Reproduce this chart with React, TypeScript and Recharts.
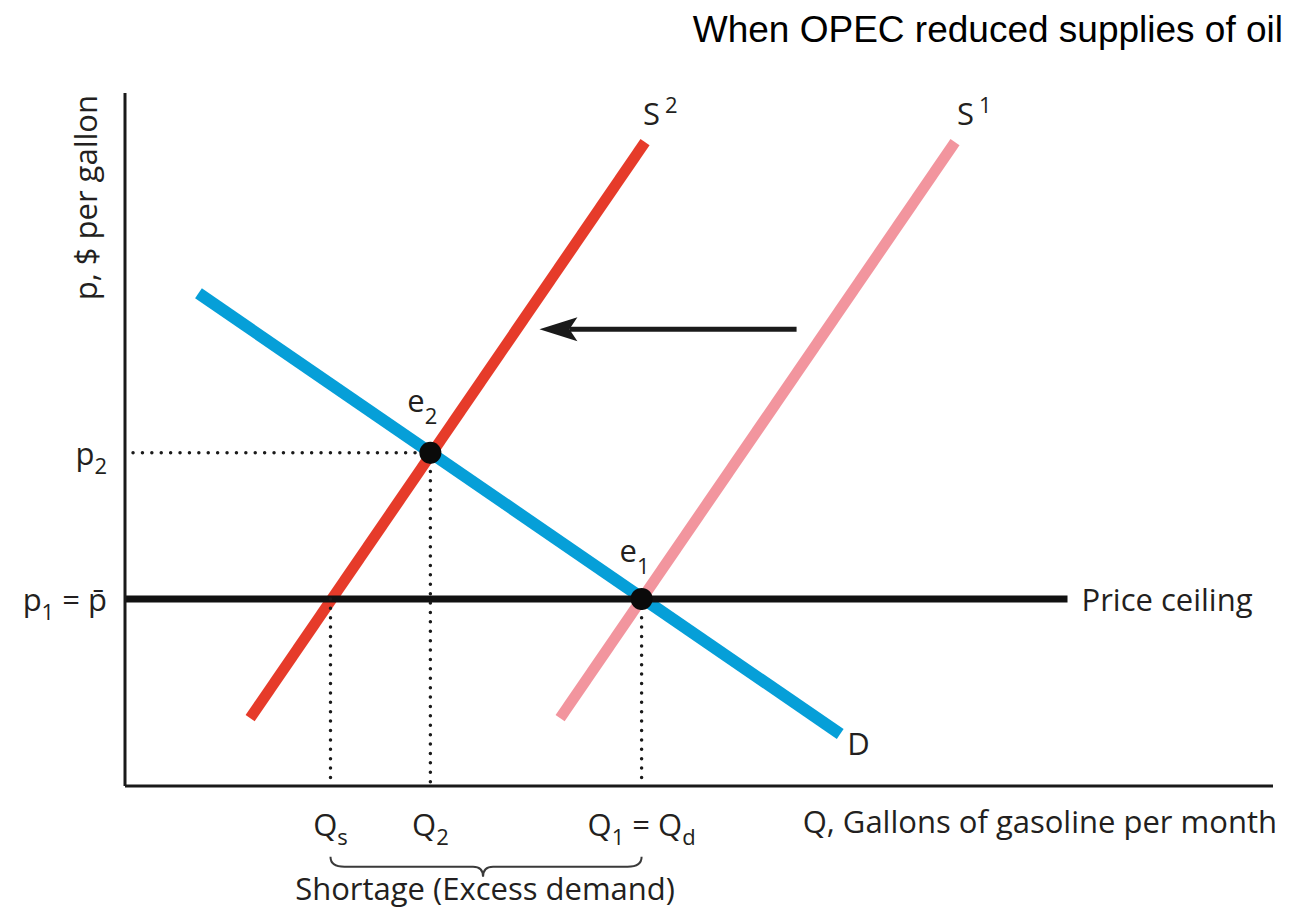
import React from "react";
import {
  ComposedChart,
  Line,
  Scatter,
  XAxis,
  YAxis,
  ReferenceLine,
  ReferenceDot,
  Label,
} from "recharts";

// all values in chart units: quantity 0-100, price 0-100
const demand = [
  { q: 6.4, p: 71.1 },
  { q: 62.3, p: 7.5 },
];
const supplyNew = [
  { q: 10.9, p: 9.8 },
  { q: 45.3, p: 92.9 },
];
const supplyOld = [
  { q: 37.9, p: 9.8 },
  { q: 72.3, p: 92.9 },
];
const ceiling = [
  { q: 0, p: 27.0 },
  { q: 82.1, p: 27.0 },
];
const equilibria = [
  { q: 26.6, p: 48.1, name: "e2" },
  { q: 45.0, p: 27.0, name: "e1" },
];
const qTicks = [17.9, 26.6, 45.0];
const pTicks = [27.0, 48.1];
const shiftArrow = { from: 58.5, to: 36.1, p: 65.9 };
const braceP = -10.2;

const FONT = "'Open Sans', sans-serif";
const FS = 31;
const SUB = 22;
const INK = "#231f20";

const tickText: Record<number, React.ReactNode> = {
  17.9: (
    <>
      <tspan>Q</tspan>
      <tspan dy={9} fontSize={SUB}>s</tspan>
    </>
  ),
  26.6: (
    <>
      <tspan>Q</tspan>
      <tspan dy={9} fontSize={SUB}>2</tspan>
    </>
  ),
  45.0: (
    <>
      <tspan>Q</tspan>
      <tspan dy={9} fontSize={SUB}>1</tspan>
      <tspan dy={-9}> = Q</tspan>
      <tspan dy={9} fontSize={SUB}>d</tspan>
    </>
  ),
};

const XTick = (props: any) => {
  const { x, y, payload } = props;
  return (
    <text x={x} y={y + 50} textAnchor="middle" fontFamily={FONT} fontSize={FS} fill={INK}>
      {tickText[payload.value]}
    </text>
  );
};

const YTick = (props: any) => {
  const { x, y, payload } = props;
  const isCeiling = payload.value === pTicks[0];
  return (
    <text x={x - 18} y={y + 12} textAnchor="end" fontFamily={FONT} fontSize={FS} fill={INK}>
      <tspan>p</tspan>
      <tspan dy={9} fontSize={SUB}>{isCeiling ? "1" : "2"}</tspan>
      {isCeiling && <tspan dy={-9}> = p{"\u0304"}</tspan>}
    </text>
  );
};

const textAt = (dx: number, dy: number, main: string, sub?: string, sup?: string) =>
  (props: any) => (
    <text x={props.cx + dx} y={props.cy + dy} fontFamily={FONT} fontSize={FS} fill={INK}>
      <tspan>{main}</tspan>
      {sub && (
        <tspan dy={12} fontSize={SUB}>
          {sub}
        </tspan>
      )}
      {sup && (
        <tspan dx={5} dy={-12} fontSize={SUB}>
          {sup}
        </tspan>
      )}
    </text>
  );

const Arrow = (props: any) => {
  const { x1, y1, x2 } = props;
  return (
    <g>
      <line x1={x1} y1={y1} x2={x2 + 30} y2={y1} stroke="#1a1a1a" strokeWidth={5} />
      <polygon
        points={`${x2},${y1} ${x2 + 38},${y1 - 12} ${x2 + 30},${y1} ${x2 + 38},${y1 + 12}`}
        fill="#1a1a1a"
      />
    </g>
  );
};

const Brace = (props: any) => {
  const { x1, y1, x2 } = props;
  const mid = (x1 + x2) / 2 - 3;
  const d = `M${x1},${y1} Q${x1},${y1 + 10} ${x1 + 14},${y1 + 10} L${mid - 10},${y1 + 10} Q${mid},${y1 + 10} ${mid},${y1 + 20} Q${mid},${y1 + 10} ${mid + 10},${y1 + 10} L${x2 - 14},${y1 + 10} Q${x2},${y1 + 10} ${x2},${y1}`;
  return (
    <g>
      <path d={d} fill="none" stroke="#3a3a3a" strokeWidth={2} />
      <text x={mid + 2} y={y1 + 43} textAnchor="middle" fontFamily={FONT} fontSize={FS} fill={INK}>
        Shortage (Excess demand)
      </text>
    </g>
  );
};

const EqDot = (props: any) => <circle cx={props.cx} cy={props.cy} r={11} fill="#0a0a0a" />;

const dotted = {
  stroke: "#1a1a1a",
  strokeWidth: 3.5,
  strokeDasharray: "0 9.4",
  strokeLinecap: "round" as const,
};

export default function App() {
  const [e2, e1] = equilibria;
  return (
    <div style={{ position: "absolute", left: 0, top: 0, width: 1293, height: 912, background: "#fff" }}>
      <div
        style={{
          position: "absolute",
          top: 12,
          right: 10,
          fontFamily: "'Liberation Sans', Arial, sans-serif",
          fontSize: 37,
          lineHeight: "36px",
          color: "#000",
          whiteSpace: "nowrap",
        }}
      >
        When OPEC reduced supplies of oil
      </div>
      <ComposedChart width={1293} height={912} margin={{ top: 93, right: 20, bottom: 125, left: 124 }}>
        <XAxis
          type="number"
          dataKey="q"
          domain={[0, 100]}
          ticks={qTicks}
          interval={0}
          height={1}
          tickSize={0}
          tickMargin={0}
          tickLine={false}
          tick={<XTick />}
          axisLine={{ stroke: "#1a1a1a", strokeWidth: 3 }}
        >
          <Label
            content={(p: any) => (
              <text
                x={p.viewBox.x + p.viewBox.width + 4}
                y={p.viewBox.y + 47}
                textAnchor="end"
                fontFamily={FONT}
                fontSize={FS}
                fill={INK}
              >
                Q, Gallons of gasoline per month
              </text>
            )}
          />
        </XAxis>
        <YAxis
          type="number"
          dataKey="p"
          domain={[0, 100]}
          ticks={pTicks}
          interval={0}
          width={1}
          tickSize={0}
          tickMargin={0}
          tickLine={false}
          tick={<YTick />}
          axisLine={{ stroke: "#1a1a1a", strokeWidth: 3 }}
        >
          <Label
            content={(p: any) => {
              const x = p.viewBox.x + p.viewBox.width - 28;
              const y = p.viewBox.y + 2;
              return (
                <text
                  x={x}
                  y={y}
                  transform={`rotate(-90, ${x}, ${y})`}
                  textAnchor="end"
                  fontFamily={FONT}
                  fontSize={FS}
                  fill={INK}
                >
                  p, $ per gallon
                </text>
              );
            }}
          />
        </YAxis>

        <Line data={supplyOld} dataKey="p" type="linear" stroke="#f2959e" strokeWidth={11} dot={false} isAnimationActive={false} />
        <Line data={supplyNew} dataKey="p" type="linear" stroke="#e63b2a" strokeWidth={11} dot={false} isAnimationActive={false} />
        <Line data={demand} dataKey="p" type="linear" stroke="#069fd8" strokeWidth={12} dot={false} isAnimationActive={false} />
        <Line data={ceiling} dataKey="p" type="linear" stroke="#111" strokeWidth={7} dot={false} isAnimationActive={false} />

        <ReferenceLine segment={[{ x: 0.7, y: e2.p }, { x: e2.q, y: e2.p }]} {...dotted} />
        <ReferenceLine segment={[{ x: e2.q, y: e2.p }, { x: e2.q, y: 0 }]} {...dotted} />
        <ReferenceLine segment={[{ x: qTicks[0], y: ceiling[0].p }, { x: qTicks[0], y: 0 }]} {...dotted} />
        <ReferenceLine segment={[{ x: e1.q, y: e1.p }, { x: e1.q, y: 0 }]} {...dotted} />

        <ReferenceLine
          segment={[{ x: shiftArrow.from, y: shiftArrow.p }, { x: shiftArrow.to, y: shiftArrow.p }]}
          shape={<Arrow />}
        />
        <ReferenceLine
          segment={[{ x: qTicks[0], y: braceP }, { x: qTicks[2], y: braceP }]}
          ifOverflow="visible"
          shape={<Brace />}
        />

        <Scatter data={equilibria} dataKey="p" shape={<EqDot />} isAnimationActive={false} />

        <ReferenceDot x={supplyNew[1].q} y={supplyNew[1].p} r={0} shape={textAt(-2, -17, "S", undefined, "2")} />
        <ReferenceDot x={supplyOld[1].q} y={supplyOld[1].p} r={0} shape={textAt(2, -17, "S", undefined, "1")} />
        <ReferenceDot x={demand[1].q} y={demand[1].p} r={0} shape={textAt(7, 21, "D")} />
        <ReferenceDot x={ceiling[1].q} y={ceiling[1].p} r={0} shape={textAt(14, 12, "Price ceiling")} />
        <ReferenceDot x={e2.q} y={e2.p} r={0} shape={textAt(-23, -41, "e", "2")} />
        <ReferenceDot x={e1.q} y={e1.p} r={0} shape={textAt(-22, -37, "e", "1")} />
      </ComposedChart>
    </div>
  );
}
